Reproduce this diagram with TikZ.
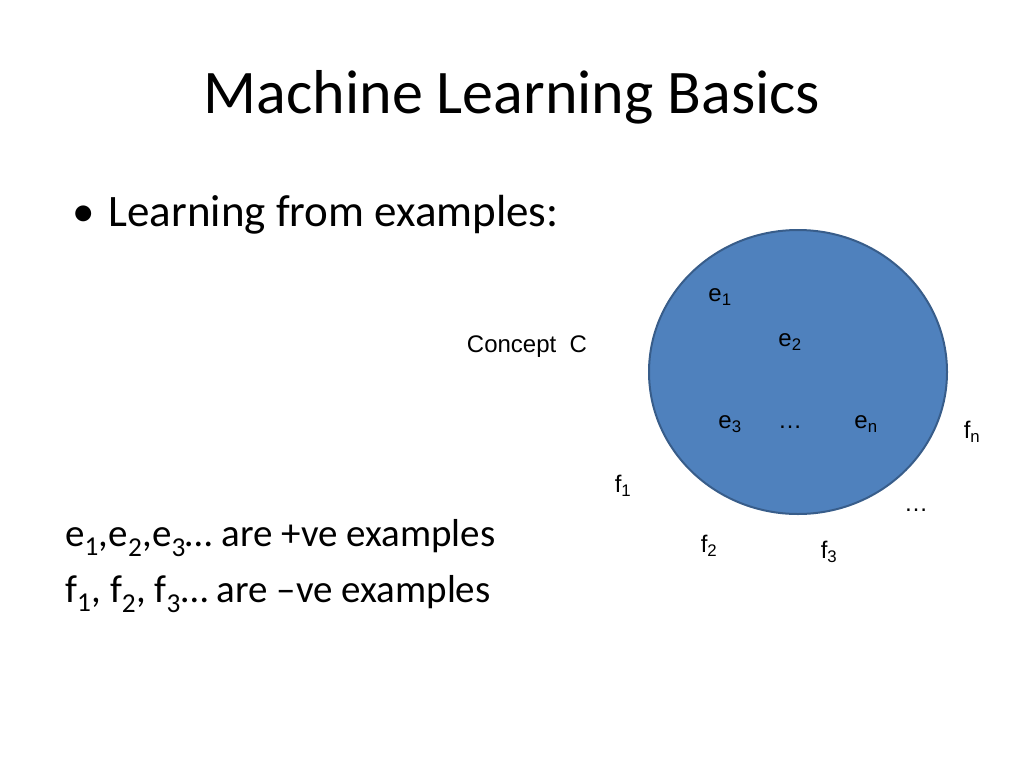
\documentclass[tikz,border=0pt]{standalone}
\usepackage{fontspec}
\setmainfont{Carlito}
\newfontfamily\labfont{Liberation Sans}
\definecolor{conceptfill}{HTML}{4F81BD}
\definecolor{conceptedge}{HTML}{385D8A}
\tikzset{
  lab/.style={font=\labfont\fontsize{24}{28}\selectfont, inner sep=0pt},
  body/.style={font=\fontsize{39}{46}\selectfont, inner sep=0pt, anchor=west}
}
\begin{document}
\begin{tikzpicture}[x=1pt,y=-1pt]
\useasboundingbox (0,0) rectangle (1024,768);
\node[font=\fontsize{62}{70}\selectfont, inner sep=0pt] (title) at (512,97) {Machine Learning Basics};
\node[body, font=\fontsize{45}{52}\selectfont] (bullet) at (72,215) {\textbullet\hspace{14pt}Learning from examples:};
\node[body] (pos) at (65,538) {e\textsubscript{1},e\textsubscript{2},e\textsubscript{3}\ldots{} are +ve examples};
\node[body] (neg) at (65,594) {f\textsubscript{1}, f\textsubscript{2}, f\textsubscript{3}\ldots{} are --ve examples};
\draw[conceptedge, line width=2pt, fill=conceptfill] (798,372) ellipse [x radius=149, y radius=142];
\node[lab] (concept) at (527,347) {Concept\ \ C};
\node[lab] (e1) at (720,297) {e\textsubscript{1}};
\node[lab] (e2) at (790,342) {e\textsubscript{2}};
\node[lab] (e3) at (730,424) {e\textsubscript{3}};
\node[lab] (edots) at (790,427) {\ldots};
\node[lab] (en) at (866,424) {e\textsubscript{n}};
\node[lab] (fn) at (972,432) {f\textsubscript{n}};
\node[lab] (f1) at (623,486) {f\textsubscript{1}};
\node[lab] (fdots) at (916,510) {\ldots};
\node[lab] (f2) at (709,546) {f\textsubscript{2}};
\node[lab] (f3) at (829,552) {f\textsubscript{3}};
\end{tikzpicture}
\end{document}
